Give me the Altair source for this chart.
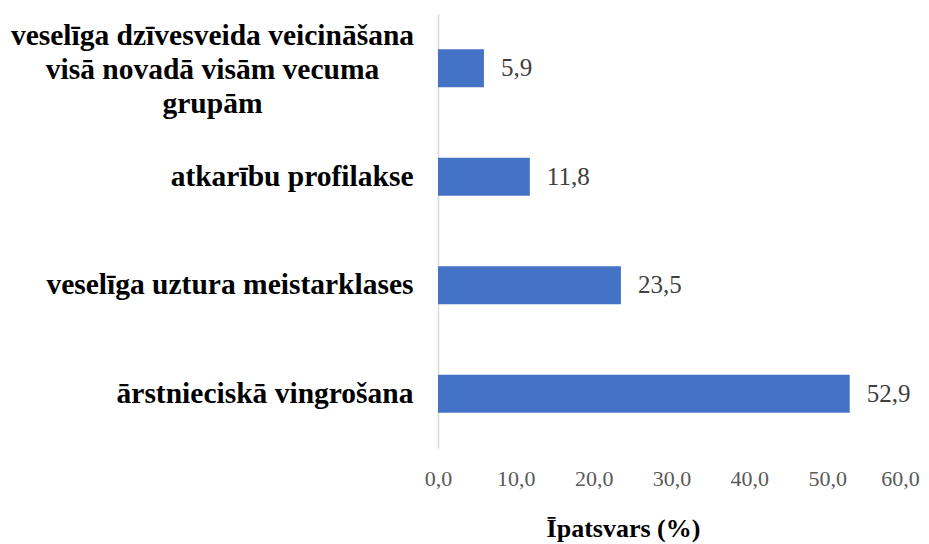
import altair as alt
import pandas as pd

categories = [
    "veselīga dzīvesveida veicināšana\nvisā novadā visām vecuma\ngrupām",
    "atkarību profilakse",
    "veselīga uztura meistarklases",
    "ārstnieciskā vingrošana",
]
values = [5.9, 11.8, 23.5, 52.9]
value_labels = ["5,9", "11,8", "23,5", "52,9"]
x_ticks = [0, 10, 20, 30, 40, 50, 60]
x_title = "Īpatsvars (%)"

df = pd.DataFrame({"cat": categories, "val": values, "lbl": value_labels})

FONT = "Liberation Serif, Times New Roman, Liberation Sans"
MULTI = "indexof(datum.label, '\\n') >= 0"

y_enc = alt.Y(
    "cat:N",
    sort=None,
    scale=alt.Scale(paddingInner=0.65, paddingOuter=0.325),
    axis=alt.Axis(
        title=None,
        ticks=False,
        tickSize=0,
        grid=False,
        domainColor="#d9d9d9",
        domainWidth=1.5,
        labelFont=FONT,
        labelFontSize=29.5,
        labelFontWeight="bold",
        labelColor="#000000",
        labelLimit=0,
        labelLineHeight=34,
        labelExpr="split(datum.label, '\\n')",
        labelAlign={"condition": {"test": MULTI, "value": "center"}, "value": "right"},
        labelPadding={"condition": {"test": MULTI, "value": 226}, "value": 25},
        labelOffset={"condition": {"test": MULTI, "value": -32}, "value": 0},
    ),
)

x_enc = alt.X(
    "val:Q",
    scale=alt.Scale(domain=[0, 60], nice=False, zero=True),
    axis=alt.Axis(
        values=x_ticks,
        domain=False,
        ticks=False,
        tickSize=0,
        grid=False,
        labelFont=FONT,
        labelFontSize=22,
        labelColor="#595959",
        labelBaseline="alphabetic",
        labelPadding=37,
        labelFlush=False,
        labelOverlap=False,
        labelExpr="replace(format(datum.value, '.1f'), '.', ',')",
        labelOffset={"condition": {"test": "datum.value == 60", "value": -5}, "value": 0},
        title=x_title,
        titleFont=FONT,
        titleFontSize=26,
        titleFontWeight="bold",
        titleColor="#000000",
        titleAlign="center",
        titleBaseline="alphabetic",
        titleX=185,
        titleY=88,
        titleAngle=0,
    ),
)

bars = alt.Chart(df).mark_bar(color="#4472C4").encode(y=y_enc, x=x_enc)

text = alt.Chart(df).mark_text(
    align="left", baseline="middle", dx=17, font=FONT, fontSize=25, color="#404040"
).encode(y=alt.Y("cat:N", sort=None), x=alt.X("val:Q"), text="lbl:N")

chart = (
    alt.layer(bars, text)
    .properties(
        width=467,
        height=434,
        autosize=alt.AutoSizeParams(type="none"),
        padding={"left": 430, "top": 6, "right": 16, "bottom": 96},
    )
    .configure_view(stroke=None)
)

chart.save("out.html", embed_options={"renderer": "svg", "actions": False})
